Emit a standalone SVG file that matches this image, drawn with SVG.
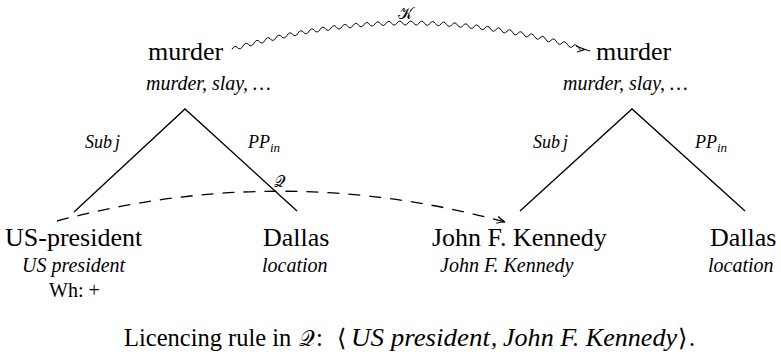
<svg xmlns="http://www.w3.org/2000/svg" width="781" height="359" viewBox="0 0 781 359">
  <defs>
    <marker id="openArrow" markerWidth="12" markerHeight="10" refX="10" refY="5" orient="auto" markerUnits="userSpaceOnUse">
      <path d="M 2 1.5 Q 6 4 10 5 Q 6 6 2 8.5" fill="none" stroke="#000" stroke-width="1.2"/>
    </marker>
  </defs>

  <!-- connectors: tree edges, the K wave and the Q arc -->
  <g id="connectors" fill="none" stroke="#000">
    <path stroke-width="1.3" d="M 74 212 L 185 109 L 297 211"/>
    <path stroke-width="1.3" d="M 520 211 L 632 109 L 745 211"/>
    <path stroke-width="1" d="M 232 49.25 Q 234.75 44.5 237.5 47.64 T 243 46.07 T 248.5 44.56 T 254 43.10 T 259.5 41.69 T 265 40.33 T 270.5 39.02 T 276 37.77 T 281.5 36.56 T 287 35.41 T 292.5 34.31 T 298 33.25 T 303.5 32.25 T 309 31.31 T 314.5 30.41 T 320 29.56 T 325.5 28.77 T 331 28.02 T 336.5 27.33 T 342 26.69 T 347.5 26.10 T 353 25.56 T 358.5 25.08 T 364 24.64 T 369.5 24.26 T 375 23.92 T 380.5 23.64 T 386 23.41 T 391.5 23.23 T 397 23.10 T 402.5 23.03 T 408 23 T 413.5 23.03 T 419 23.10 T 424.5 23.23 T 430 23.41 T 435.5 23.64 T 441 23.92 T 446.5 24.26 T 452 24.64 T 457.5 25.08 T 463 25.56 T 468.5 26.10 T 474 26.69 T 479.5 27.33 T 485 28.02 T 490.5 28.77 T 496 29.56 T 501.5 30.41 T 507 31.31 T 512.5 32.25 T 518 33.25 T 523.5 34.31 T 529 35.41 T 534.5 36.56 T 540 37.77 T 545.5 39.02 T 551 40.33 T 556.5 41.69 T 562 43.10 T 567.5 44.56 T 573 46.07 T 578.5 47.64 T 584 49.25 L 590 51"/>
    <path stroke-width="1.1" d="M 576 46 L 585 49.5 L 577 52"/>
    <path stroke-width="1.3" stroke-dasharray="12 9" d="M 57 221 Q 281 161 505 222" marker-end="url(#openArrow)"/>
  </g>
  <g id="edge-labels" fill="#000">
    <text font-family="'Times New Roman', 'Liberation Serif', serif" font-size="18" font-style="italic" x="85" y="148">Sub<tspan dx="3">j</tspan></text>
    <text font-family="'Times New Roman', 'Liberation Serif', serif" font-size="18" font-style="italic" x="248" y="148">PP<tspan font-size="13" dy="4">in</tspan></text>
    <text font-family="'Times New Roman', 'Liberation Serif', serif" font-size="18" font-style="italic" x="533" y="148">Sub<tspan dx="3">j</tspan></text>
    <text font-family="'Times New Roman', 'Liberation Serif', serif" font-size="18" font-style="italic" x="695" y="148">PP<tspan font-size="13" dy="4">in</tspan></text>
  </g>

  <g id="murder-left" fill="#000">
    <text font-family="'Times New Roman', 'Liberation Serif', serif" font-size="26" x="148" y="60">murder</text>
    <text font-family="'Times New Roman', 'Liberation Serif', serif" font-size="20" font-style="italic" x="146" y="90">murder, slay, …</text>
  </g>
  <g id="murder-right" fill="#000">
    <text font-family="'Times New Roman', 'Liberation Serif', serif" font-size="26" x="596" y="60">murder</text>
    <text font-family="'Times New Roman', 'Liberation Serif', serif" font-size="20" font-style="italic" x="563" y="90">murder, slay, …</text>
  </g>
  <g id="us-president" fill="#000">
    <text font-family="'Times New Roman', 'Liberation Serif', serif" font-size="26" x="5" y="246">US-president</text>
    <text font-family="'Times New Roman', 'Liberation Serif', serif" font-size="20" font-style="italic" x="22" y="272">US president</text>
    <text font-family="'Times New Roman', 'Liberation Serif', serif" font-size="20" x="49" y="297">Wh: +</text>
  </g>
  <g id="dallas-left" fill="#000">
    <text font-family="'Times New Roman', 'Liberation Serif', serif" font-size="26" x="263" y="246">Dallas</text>
    <text font-family="'Times New Roman', 'Liberation Serif', serif" font-size="20" font-style="italic" x="262" y="272">location</text>
  </g>
  <g id="kennedy" fill="#000">
    <text font-family="'Times New Roman', 'Liberation Serif', serif" font-size="26" x="432" y="246">John F. Kennedy</text>
    <text font-family="'Times New Roman', 'Liberation Serif', serif" font-size="20" font-style="italic" x="440" y="272">John F. Kennedy</text>
  </g>
  <g id="dallas-right" fill="#000">
    <text font-family="'Times New Roman', 'Liberation Serif', serif" font-size="26" x="710" y="246">Dallas</text>
    <text font-family="'Times New Roman', 'Liberation Serif', serif" font-size="20" font-style="italic" x="708" y="272">location</text>
  </g>

  <!-- caption line, set piece by piece -->
  <g id="caption" fill="#000">
    <text font-family="'Times New Roman', 'Liberation Serif', serif" font-size="24.5" x="124" y="346">Licencing rule in</text>
    <text font-family="'Times New Roman', 'Liberation Serif', serif" font-size="24.5" x="316" y="346">:</text>
    <text font-family="'Times New Roman', 'Liberation Serif', serif" font-size="24.5" font-style="italic" x="351" y="346" textLength="139" lengthAdjust="spacingAndGlyphs">US president</text>
    <text font-family="'Times New Roman', 'Liberation Serif', serif" font-size="24.5" font-style="italic" x="491" y="346">,</text>
    <text font-family="'Times New Roman', 'Liberation Serif', serif" font-size="24.5" font-style="italic" x="503" y="346" textLength="174" lengthAdjust="spacingAndGlyphs">John F. Kennedy</text>
    <text font-family="'Times New Roman', 'Liberation Serif', serif" font-size="24.5" x="689" y="346">.</text>
  </g>

  <!-- math symbols: script letters and angle brackets -->
  <g id="math-symbols" fill="#000">
    <text font-family="DejaVu Serif" font-size="16" x="398" y="19">&#x1D4A6;</text>
    <text font-family="DejaVu Serif" font-size="16" x="274" y="187">&#x1D4AC;</text>
    <text font-family="DejaVu Serif" font-size="22" x="299" y="346">&#x1D4AC;</text>
    <text font-family="DejaVu Sans" font-size="24" x="337" y="346">&#x27E8;</text>
    <text font-family="DejaVu Sans" font-size="24" x="678" y="346">&#x27E9;</text>
  </g>
</svg>
